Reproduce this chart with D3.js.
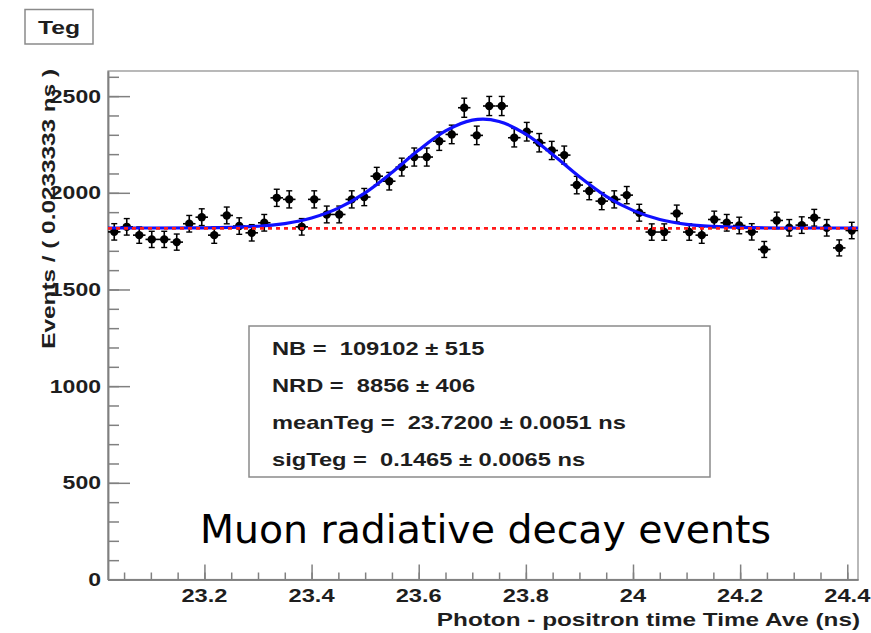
<!DOCTYPE html>
<html lang="en">
<head>
<meta charset="UTF-8">
<title>Teg</title>
<script src="https://cdn.jsdelivr.net/npm/d3@7"></script>
<style>
    body { margin: 0; background: #fff; }
    .rt { font-family: "Liberation Sans", Arial, sans-serif; font-weight: bold; fill: #1e1e1e; white-space: pre; }
    .axis path, .axis line { stroke: #808080; stroke-width: 1.5; fill: none; }
</style>
</head>
<body>
<svg id="canvas" width="871" height="633"></svg>
<script>
// binning of the histogram (60 bins of 0.0233333 ns)
const xMin = 23.02, xMax = 24.42, nBins = 60;
const binWidth = (xMax - xMin) / nBins;

// events per bin
const counts = [1798, 1824, 1781, 1759, 1759, 1745, 1840, 1874, 1781, 1883,
                1828, 1793, 1845, 1974, 1966, 1824, 1966, 1888, 1888, 1966,
                1978, 2086, 2060, 2133, 2185, 2185, 2267, 2302, 2440, 2297,
                2449, 2449, 2285, 2316, 2259, 2219, 2195, 2040, 2009, 1957,
                1966, 1988, 1897, 1797, 1797, 1893, 1797, 1781, 1862, 1845,
                1831, 1798, 1707, 1857, 1819, 1833, 1871, 1819, 1715, 1805];

// blue fit curve
const curveX = [23.02, 23.1, 23.2, 23.3, 23.35, 23.4, 23.45, 23.5, 23.55, 23.6, 23.65, 23.7, 23.72,
                23.75, 23.8, 23.85, 23.9, 23.95, 24.0, 24.05, 24.1, 24.15, 24.2, 24.3, 24.42];
const curveY = [1818, 1818, 1819, 1827, 1841, 1870, 1921, 2000, 2105, 2221, 2320, 2376, 2381,
                2369, 2303, 2198, 2083, 1982, 1909, 1862, 1837, 1826, 1821, 1818, 1818];

// red dashed background level
const background = 1816;

const yTicks = [0, 500, 1000, 1500, 2000, 2500];
const xTicks = [23.2, 23.4, 23.6, 23.8, 24, 24.2, 24.4];
const xTickLabels = ["23.2", "23.4", "23.6", "23.8", "24", "24.2", "24.4"];

const paramLines = ["NB =  109102 \u00b1 515",
                    "NRD =  8856 \u00b1 406",
                    "meanTeg =  23.7200 \u00b1 0.0051 ns",
                    "sigTeg =  0.1465 \u00b1 0.0065 ns"];

const frameL = 108, frameR = 858, frameT = 71, frameB = 579.5;
const stretch = 1.28;

let svg = d3.select('#canvas');

let x = d3.scaleLinear().domain([xMin, xMax]).range([frameL, frameR]);
let y = d3.scaleLinear().domain([0, 2630]).range([frameB, frameT]);

// frame
svg.append('rect')
    .attr('x', frameL).attr('y', frameT)
    .attr('width', frameR - frameL).attr('height', frameB - frameT)
    .style('fill', 'none').style('stroke', '#8a8a8a').style('stroke-width', 1.2);

// axes: major + minor ticks pointing into the frame
svg.append('g').attr('class', 'axis').attr('transform', `translate(${frameL},0)`)
    .call(d3.axisLeft(y).tickValues(d3.range(0, 2601, 100)).tickSizeInner(-11).tickSizeOuter(0).tickFormat(''));
svg.append('g').attr('class', 'axis').attr('transform', `translate(${frameL},0)`)
    .call(d3.axisLeft(y).tickValues(yTicks).tickSizeInner(-22).tickSizeOuter(0).tickFormat(''));
svg.append('g').attr('class', 'axis').attr('transform', `translate(0,${frameB})`)
    .call(d3.axisBottom(x).tickValues(d3.range(23.05, 24.41, 0.05)).tickSizeInner(-7).tickSizeOuter(0).tickFormat(''));
svg.append('g').attr('class', 'axis').attr('transform', `translate(0,${frameB})`)
    .call(d3.axisBottom(x).tickValues(xTicks).tickSizeInner(-15).tickSizeOuter(0).tickFormat(''));

// tick labels
svg.selectAll('.ylab').data(yTicks).enter().append('text')
    .attr('class', 'rt')
    .attr('text-anchor', 'end')
    .attr('transform', d => `translate(101,${y(d) + 6.5}) scale(${stretch},1)`)
    .style('font-size', '18px')
    .text(d => d);

svg.selectAll('.xlab').data(xTicks).enter().append('text')
    .attr('class', 'rt')
    .attr('text-anchor', 'middle')
    .attr('transform', d => `translate(${x(d)},602) scale(${stretch},1)`)
    .style('font-size', '18.5px')
    .text((d, i) => xTickLabels[i]);

// axis titles
svg.append('text').attr('class', 'rt')
    .attr('text-anchor', 'end')
    .attr('transform', `translate(860,626) scale(${stretch},1)`)
    .style('font-size', '19px')
    .text('Photon - positron time Time Ave (ns)');

svg.append('text').attr('class', 'rt')
    .attr('text-anchor', 'end')
    .attr('transform', `translate(55,69) rotate(-90) scale(${stretch},1)`)
    .style('font-size', '19px')
    .text('Events / ( 0.0233333 ns )');

// data points with error bars
let binCenter = (d, i) => xMin + (i + 0.5) * binWidth;
let pts = svg.append('g').selectAll('g').data(counts).enter().append('g');
pts.append('line')
    .attr('x1', (d, i) => x(binCenter(d, i) - binWidth / 2))
    .attr('x2', (d, i) => x(binCenter(d, i) + binWidth / 2))
    .attr('y1', d => y(d)).attr('y2', d => y(d))
    .style('stroke', '#000').style('stroke-width', 1.6);
pts.append('line')
    .attr('x1', (d, i) => x(binCenter(d, i))).attr('x2', (d, i) => x(binCenter(d, i)))
    .attr('y1', d => y(d - Math.sqrt(d))).attr('y2', d => y(d + Math.sqrt(d)))
    .style('stroke', '#000').style('stroke-width', 1.6);
[-1, 1].forEach(function (s) {
    pts.append('line')
        .attr('x1', (d, i) => x(binCenter(d, i)) - 3).attr('x2', (d, i) => x(binCenter(d, i)) + 3)
        .attr('y1', d => y(d + s * Math.sqrt(d))).attr('y2', d => y(d + s * Math.sqrt(d)))
        .style('stroke', '#000').style('stroke-width', 1.4);
});
pts.append('circle')
    .attr('cx', (d, i) => x(binCenter(d, i)))
    .attr('cy', d => y(d))
    .attr('r', 4.2)
    .style('fill', '#000');

// fit curve
let line = d3.line().x(d => x(d[0])).y(d => y(d[1])).curve(d3.curveMonotoneX);
svg.append('path')
    .datum(curveX.map((v, i) => [v, curveY[i]]))
    .attr('d', line)
    .style('fill', 'none').style('stroke', '#1010ff').style('stroke-width', 3.2);

// background component
svg.append('line')
    .attr('x1', x(xMin)).attr('x2', x(xMax))
    .attr('y1', y(background)).attr('y2', y(background))
    .style('stroke', '#ff1a1a').style('stroke-width', 2.6).style('stroke-dasharray', '4,4');

// fit parameter box
svg.append('rect')
    .attr('x', 249).attr('y', 326).attr('width', 461).attr('height', 151)
    .style('fill', '#fff').style('stroke', '#8a8a8a').style('stroke-width', 1.5);
svg.selectAll('.par').data(paramLines).enter().append('text')
    .attr('class', 'rt')
    .attr('transform', (d, i) => `translate(272,${355 + i * 37}) scale(1.28,1)`)
    .style('font-size', '18.5px')
    .text(d => d);

// title box
svg.append('rect')
    .attr('x', 25).attr('y', 9.5).attr('width', 68).attr('height', 34.5)
    .style('fill', '#fff').style('stroke', '#8a8a8a').style('stroke-width', 1.5);
svg.append('text').attr('class', 'rt')
    .attr('text-anchor', 'middle')
    .attr('transform', `translate(59,34) scale(1.3,1)`)
    .style('font-size', '19px')
    .text('Teg');

// annotation
svg.append('text')
    .attr('x', 200).attr('y', 543)
    .style('font-family', '"DejaVu Sans", sans-serif')
    .style('font-size', '39.4px')
    .style('fill', '#000')
    .text('Muon radiative decay events');
</script>
</body>
</html>
